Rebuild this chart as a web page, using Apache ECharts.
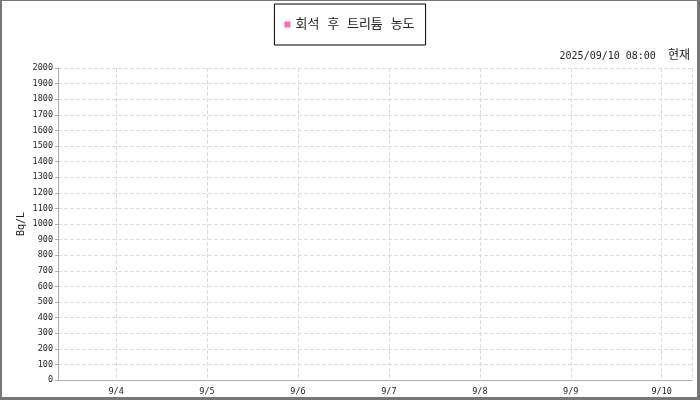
<!DOCTYPE html>
<html>
<head>
<meta charset="utf-8">
<script src="https://cdn.jsdelivr.net/npm/echarts@6/dist/echarts.min.js"></script>
<style>
  html, body { margin: 0; padding: 0; background: #fff; }
  #chart {
    width: 695px;
    height: 396px;
    border-top: 1px solid #777;
    border-left: 2px solid #777;
    border-right: 3px solid #777;
    border-bottom: 3px solid #777;
  }
</style>
</head>
<body>
<div id="chart"></div>
<script>
  // 표시 기간 (~9/10 08:00)
  const rangeStart = '2025-09-03T08:40:00';
  const rangeEnd = '2025-09-10T08:00:00';
  const asOfText = '2025/09/10 08:00';

  // 시리즈
  const seriesName = '회석 후 트리튬 농도';
  const seriesTimes = [];
  const seriesValues = [];

  // y축
  const yMin = 0;
  const yMax = 2000;
  const yStep = 100;
  const yUnit = 'Bq/L';

  const monoFont = "'DejaVu Sans Mono', 'Noto Sans CJK KR', monospace";

  const chart = echarts.init(document.getElementById('chart'));

  const points = seriesTimes.map((t, i) => [new Date(t).getTime(), seriesValues[i]]);

  const option = {
    animation: false,
    backgroundColor: '#fff',
    textStyle: { fontFamily: monoFont },
    title: {
      right: 2,
      top: 44,
      text: '{a|' + asOfText + '  }{b|현재}',
      textStyle: {
        fontWeight: 'normal',
        rich: {
          a: { fontFamily: monoFont, fontSize: 10, color: '#222', fontWeight: 'normal' },
          b: { fontFamily: monoFont, fontSize: 12, color: '#222', fontWeight: 'normal' }
        }
      }
    },
    legend: {
      left: 'center',
      top: 3,
      padding: [14, 11, 14, 10],
      borderColor: '#000',
      borderWidth: 1,
      icon: 'rect',
      itemWidth: 6,
      itemHeight: 6,
      itemGap: 5,
      textStyle: { fontFamily: monoFont, fontSize: 13, color: '#222' },
      data: [seriesName]
    },
    grid: {
      left: 56,
      right: 5,
      top: 67,
      bottom: 17,
      outerBoundsMode: 'none'
    },
    xAxis: {
      type: 'time',
      min: new Date(rangeStart).getTime(),
      max: new Date(rangeEnd).getTime(),
      minInterval: 86400000,
      maxInterval: 86400000,
      axisLine: { lineStyle: { color: '#aaa' } },
      axisTick: { show: false },
      axisLabel: {
        formatter: '{M}/{d}',
        fontFamily: monoFont,
        fontSize: 8.5,
        color: '#222',
        margin: 8,
        hideOverlap: false
      },
      splitLine: {
        show: true,
        lineStyle: { color: '#ddd', type: 'dashed' }
      }
    },
    yAxis: {
      type: 'value',
      min: yMin,
      max: yMax,
      interval: yStep,
      name: yUnit,
      nameLocation: 'middle',
      nameGap: 32,
      nameMoveOverlap: false,
      nameTextStyle: { fontFamily: monoFont, fontSize: 10, color: '#222' },
      axisLine: { show: true, lineStyle: { color: '#aaa' } },
      axisTick: { show: true, length: 3, lineStyle: { color: '#aaa' } },
      axisLabel: {
        formatter: (v) => String(v),
        fontFamily: monoFont,
        fontSize: 8.5,
        color: '#222',
        margin: 5
      },
      splitLine: {
        lineStyle: { color: '#ddd', type: 'dashed' }
      }
    },
    series: [
      {
        name: seriesName,
        type: 'line',
        data: points,
        itemStyle: { color: '#ff69b4' },
        lineStyle: { color: '#ff69b4', width: 2 },
        symbol: 'circle',
        symbolSize: 4
      }
    ]
  };

  chart.setOption(option);
</script>
</body>
</html>
